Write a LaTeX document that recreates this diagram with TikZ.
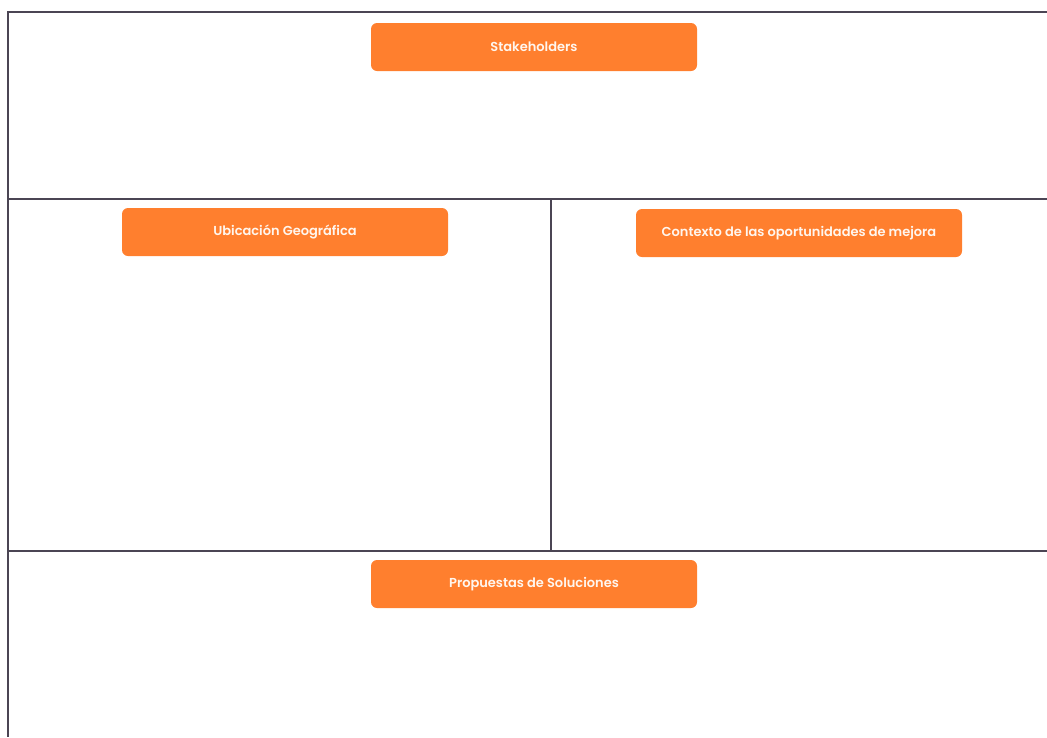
\documentclass[tikz,border=0pt]{standalone}
\usepackage{fontspec}
\setmainfont{Poppins}[BoldFont={Poppins SemiBold}]
\usepackage{tikz}
\usetikzlibrary{positioning}

\definecolor{boxorange}{HTML}{FF7F2E}
\definecolor{framegray}{HTML}{4B4554}
\definecolor{boxtext}{HTML}{FFF6EE}

\begin{document}
\begin{tikzpicture}[x=1pt,y=-1pt,
      frame/.style={draw=framegray,line width=2pt},
      title/.style={fill=boxorange,rounded corners=6pt,minimum width=326pt,
        minimum height=48pt,text=boxtext,font=\fontsize{13}{15}\selectfont\bfseries}]

    \useasboundingbox (0,0) rectangle (1047,737);

    % frame
    \draw[frame] (1047,12) -- (8,12) -- (8,737);
    \draw[frame] (8,199) -- (1047,199);
    \draw[frame] (8,551) -- (1047,551);
    \draw[frame] (551,199) -- (551,551);

    \node[title] (stake) at (534,47) {Stakeholders};
    \node[title] (ubic) at (285,232) {Ubicación Geográfica};
    \node[title] (ctx) at (799,233) {Contexto de las oportunidades de mejora};
    \node[title] (prop) at (534,584) {Propuestas de Soluciones};

\end{tikzpicture}
\end{document}
